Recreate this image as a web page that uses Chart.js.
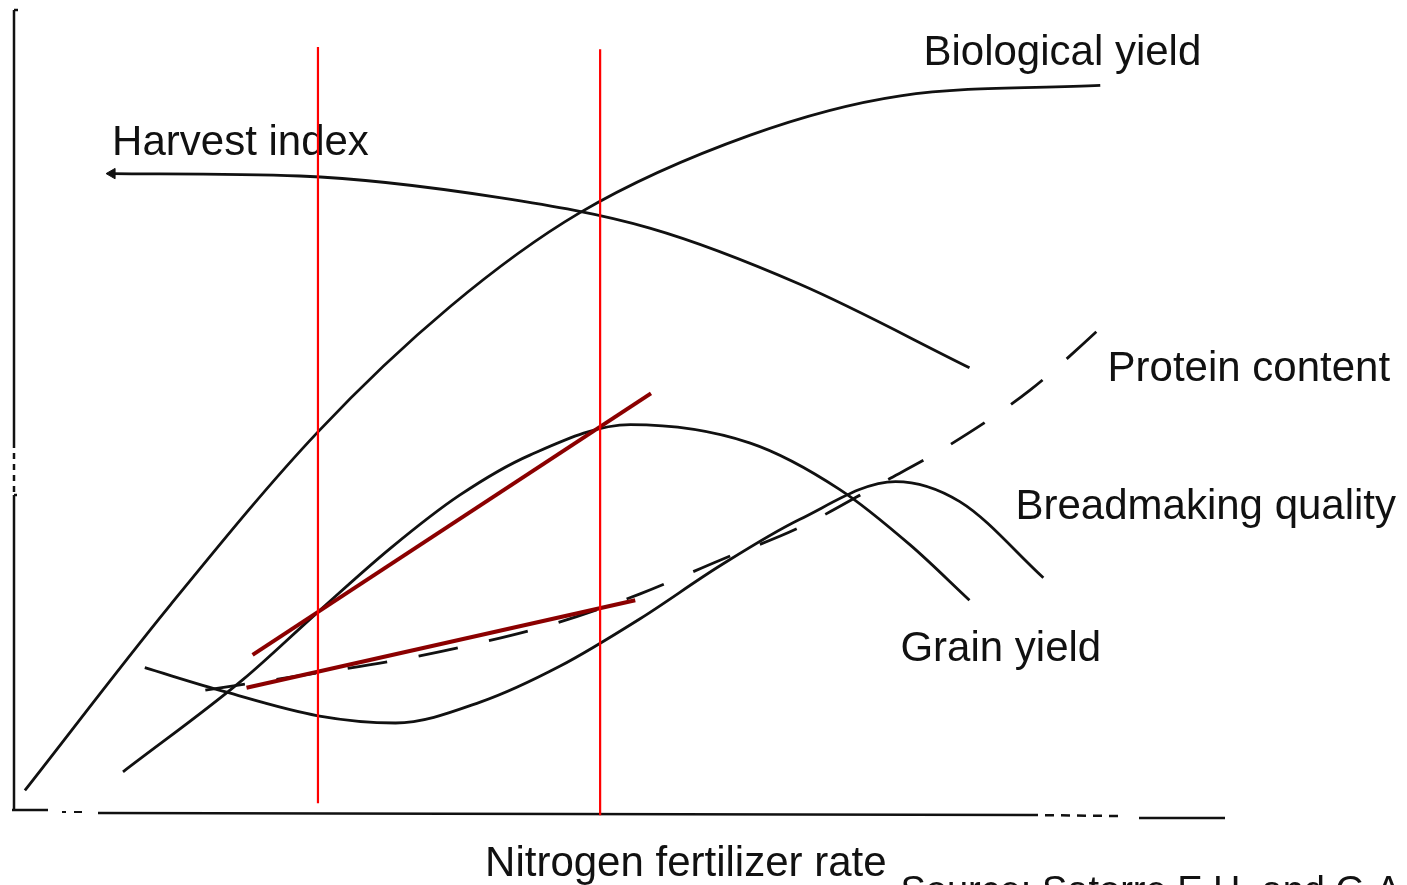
<!DOCTYPE html>
<html>
<head>
<meta charset="utf-8">
<script src="https://cdn.jsdelivr.net/npm/chart.js@4.4.1/dist/chart.umd.min.js"></script>
<style>
  html, body { margin: 0; padding: 0; background: #fff; }
  #wrap { width: 1407px; height: 885px; position: relative; }
</style>
</head>
<body>
<div id="wrap"><canvas id="chart"></canvas></div>
<script>
// values, in relative units (0-100 on both axes)
const BIO_X      = [0.9, 12.9, 25.1, 36.0, 46.7, 60.8, 73.2, 89.7];
const BIO_Y      = [2.7, 25.8, 47.4, 63.0, 74.7, 84.4, 89.3, 90.6];

const HARVEST_X  = [8.1, 23.6, 40.1, 52.5, 64.9, 78.9];
const HARVEST_Y  = [79.6, 79.3, 76.6, 72.8, 65.8, 55.4];

const GRAIN_X    = [9.0, 18.9, 25.0, 31.1, 36.8, 42.6, 50.9, 60.8, 68.2, 74.0, 78.9];
const GRAIN_Y    = [5.0, 16.5, 24.8, 32.9, 39.5, 44.5, 48.3, 46.0, 40.2, 33.3, 26.4];

const BREAD_X    = [10.8, 17.4, 25.1, 31.5, 38.5, 45.1, 51.7, 58.3, 64.9, 72.8, 78.1, 85.0];
const BREAD_Y    = [18.0, 15.0, 12.0, 11.1, 13.7, 18.2, 24.1, 30.7, 36.5, 41.2, 38.7, 29.2];

const PROTEIN_X  = [15.8, 23.6, 31.9, 38.5, 45.1, 51.7, 58.3, 64.9, 71.5, 77.3, 83.9, 90.5];
const PROTEIN_Y  = [15.2, 17.0, 19.0, 21.1, 23.7, 27.2, 31.4, 35.5, 40.9, 45.8, 52.6, 61.4];

// red guide lines at two nitrogen rates
const GUIDE_X    = [25.1, 48.4];
const GUIDE_Y0   = [1.1, -0.4];
const GUIDE_Y1   = [95.4, 95.1];

// dark red secant lines (start, end)
const SLOPE1_X   = [19.7, 52.6];
const SLOPE1_Y   = [19.6, 52.2];
const SLOPE2_X   = [19.2, 51.3];
const SLOPE2_Y   = [15.5, 26.4];

const LABELS = [
    { text: 'Biological yield',        x: 75.1, y: 93.1 },
    { text: 'Harvest index',           x: 8.1,  y: 81.9 },
    { text: 'Protein content',         x: 90.3, y: 53.7 },
    { text: 'Breadmaking quality',     x: 82.7, y: 36.5 },
    { text: 'Grain yield',             x: 73.2, y: 18.8 },
    { text: 'Nitrogen fertilizer rate', x: 38.9, y: -8.0 }
];
const SOURCE_TEXT = 'Source: Satorre E.H. and G.A. Slafer';

const toPoints = (xs, ys) => xs.map((x, i) => ({ x, y: ys[i] }));

const curve = (label, xs, ys, extra) => Object.assign({
    label,
    data: toPoints(xs, ys),
    borderColor: '#111',
    borderWidth: 2.8,
    pointRadius: 0,
    cubicInterpolationMode: 'monotone',
    fill: false,
    clip: false,
    order: 5
}, extra || {});

const straight = (label, xs, ys, color, width, order) => ({
    label,
    data: toPoints(xs, ys),
    borderColor: color,
    borderWidth: width,
    pointRadius: 0,
    tension: 0,
    fill: false,
    clip: false,
    order
});

const datasets = [
    curve('Biological yield', BIO_X, BIO_Y),
    curve('Harvest index', HARVEST_X, HARVEST_Y, {
        pointRadius: HARVEST_X.map((_, i) => (i === 0 ? 6 : 0)),
        pointStyle: 'triangle',
        pointRotation: 270,
        pointBackgroundColor: '#111',
        pointBorderColor: '#111',
        pointBorderWidth: 1
    }),
    curve('Grain yield', GRAIN_X, GRAIN_Y),
    curve('Breadmaking quality', BREAD_X, BREAD_Y),
    curve('Protein content', PROTEIN_X, PROTEIN_Y, { borderDash: [40, 32] }),
    straight('slope 1', SLOPE1_X, SLOPE1_Y, '#8b0000', 4, 2),
    straight('slope 2', SLOPE2_X, SLOPE2_Y, '#8b0000', 4, 2)
];
GUIDE_X.forEach((gx, i) => {
    datasets.push(straight('rate ' + (i + 1), [gx, gx], [GUIDE_Y0[i], GUIDE_Y1[i]], '#ff0000', 2.2, 1));
});

// hand-drawn looking axes and the text labels
const sketchPlugin = {
    id: 'sketch',
    beforeDatasetsDraw(chart) {
        const { ctx, chartArea: a, scales } = chart;
        ctx.save();
        ctx.strokeStyle = '#111';
        ctx.lineWidth = 2.5;
        ctx.lineCap = 'butt';

        const seg = (x0, y0, x1, y1) => {
            ctx.beginPath();
            ctx.moveTo(x0, y0);
            ctx.lineTo(x1, y1);
            ctx.stroke();
        };

        // y axis: solid, dashed break, solid
        seg(a.left, a.top, a.left + 4, a.top);
        seg(a.left, a.top, a.left, a.top + 432);
        ctx.setLineDash([6, 5]);
        seg(a.left, a.top + 432, a.left, a.top + 484);
        ctx.setLineDash([]);
        seg(a.left + 3, a.top + 485, a.left, a.top + 485);
        seg(a.left, a.top + 485, a.left, a.bottom - 2);

        // x axis with small breaks
        seg(a.left - 2, a.bottom - 2, a.left + 34, a.bottom - 2);
        ctx.lineWidth = 2;
        seg(a.left + 48, a.bottom, a.left + 52, a.bottom);
        seg(a.left + 60, a.bottom, a.left + 68, a.bottom);
        ctx.lineWidth = 2.5;
        seg(a.left + 84, a.bottom + 1, a.left + 1015, a.bottom + 3);
        ctx.setLineDash([9, 7]);
        seg(a.left + 1015, a.bottom + 3, a.left + 1105, a.bottom + 4);
        ctx.setLineDash([]);
        seg(a.left + 1125, a.bottom + 6, a.right, a.bottom + 6);

        // labels
        ctx.fillStyle = '#111';
        ctx.textBaseline = 'alphabetic';
        ctx.textAlign = 'left';
        ctx.font = '42px "Liberation Sans", Arial, sans-serif';
        LABELS.forEach((l) => {
            ctx.fillText(l.text, scales.x.getPixelForValue(l.x), scales.y.getPixelForValue(l.y));
        });

        ctx.font = '38px "Liberation Sans", Arial, sans-serif';
        ctx.fillText(SOURCE_TEXT, scales.x.getPixelForValue(73.2), scales.y.getPixelForValue(-11.4));
        ctx.restore();
    }
};

new Chart(document.getElementById('chart'), {
    type: 'line',
    data: { datasets },
    options: {
        responsive: true,
        maintainAspectRatio: false,
        animation: false,
        layout: { padding: { left: 14, top: 10, right: 182, bottom: 73 } },
        scales: {
            x: { type: 'linear', min: 0, max: 100, display: false },
            y: { type: 'linear', min: 0, max: 100, display: false }
        },
        plugins: {
            legend: { display: false },
            tooltip: { enabled: false }
        }
    },
    plugins: [sketchPlugin]
});
</script>
</body>
</html>
